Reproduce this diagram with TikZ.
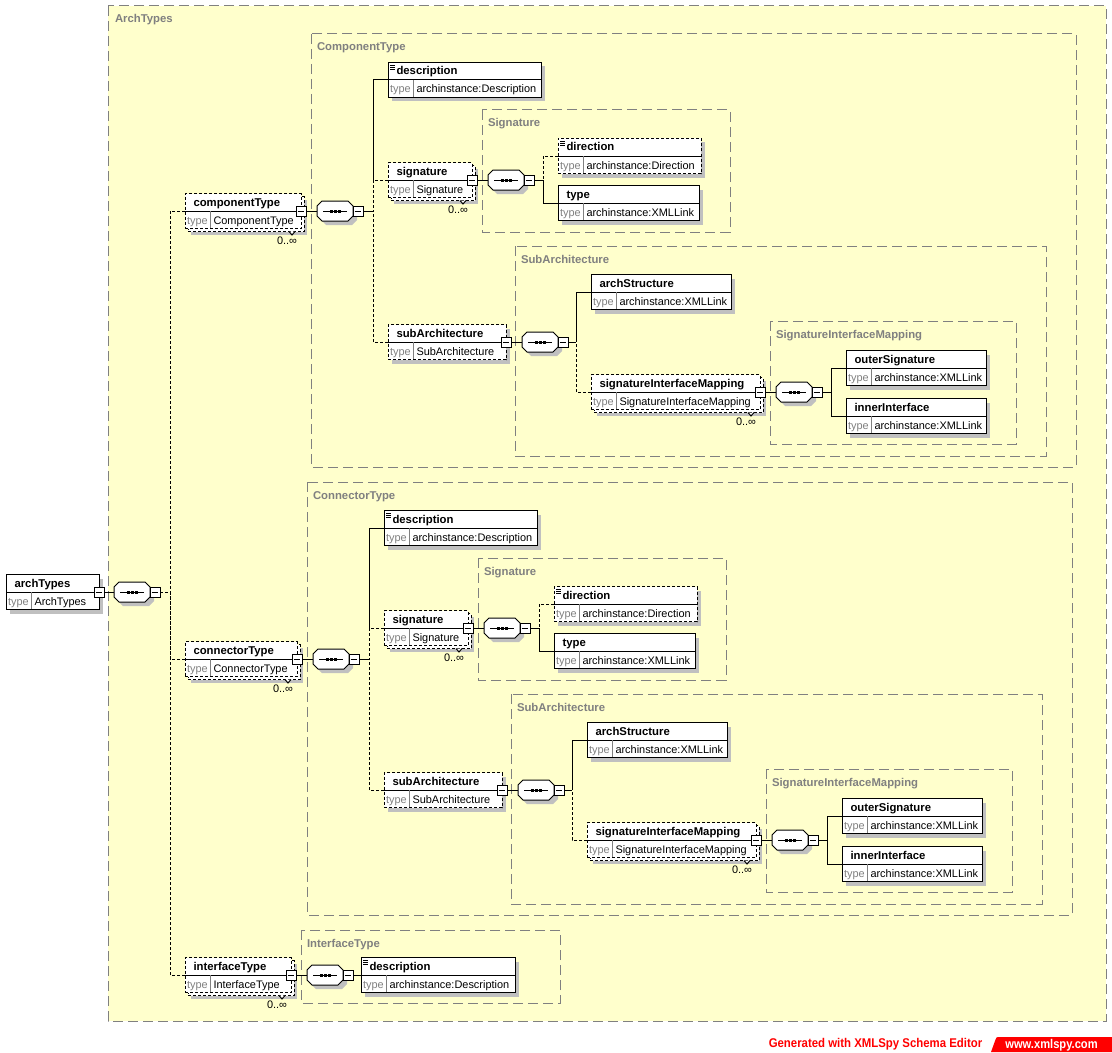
\documentclass[tikz,border=0pt]{standalone}
\usepackage{graphicx}
\usepackage{fontspec}
\setmainfont{Liberation Sans}
\definecolor{bgy}{HTML}{FFFFCC}
\definecolor{shd}{HTML}{C0C0C0}
\definecolor{gry}{HTML}{808080}
\definecolor{xred}{HTML}{FF0000}
\newif\ifemulti \newif\ifedoc \newif\ifedash \newif\ifeminus
\pgfkeys{/elem/.cd, multi/.code={\emultitrue}, doc/.code={\edoctrue}, dashed/.code={\edashtrue}, minus/.code={\eminustrue}}
\tikzset{
 dsh/.style={dash pattern=on 2.25pt off 1.5pt},
 regbox/.style={draw=gry, dash pattern=on 7.5pt off 3.75pt},
 ebox/.style={draw, fill=white, inner sep=0pt, outer sep=0pt, minimum height=26.25pt},
 mbox/.style={draw, fill=white, inner sep=0pt, outer sep=0pt, minimum size=7.5pt},
 txt/.style={font=\fontsize{8.2}{10}\selectfont, inner sep=0pt, outer sep=0pt, anchor=base west},
 ttl/.style={txt, font=\fontsize{8.5}{10}\selectfont\bfseries},
 reglbl/.style={ttl, text=gry},
 curb/.style={solid},
}
\newcommand\octpath[2]{({#1-18},{#2-5}) -- ({#1-13},{#2-10}) -- ({#1+13},{#2-10}) -- ({#1+18},{#2-5}) -- ({#1+18},{#2+5}) -- ({#1+13},{#2+10}) -- ({#1-13},{#2+10}) -- ({#1-18},{#2+5}) -- cycle}
\newcommand\region[6]{%
 \draw[regbox] (#2,#3) rectangle (#4,#5);
 \node[reglbl] (#1) at ({#2+6},{#3+17}) {#6};
}
\newcommand\seq[3]{%
 \fill[shd] \octpath{#2+4}{#3+4};
 \filldraw[fill=white] \octpath{#2}{#3};
 \node[inner sep=0pt,outer sep=0pt,minimum width=27pt,minimum height=15pt] (#1) at (#2,#3) {};
 \draw ({#2-12},#3) -- ({#2+12},#3);
 \fill ({#2-5.5},{#3-1.5}) rectangle ({#2-2.5},{#3+1.5});
 \fill ({#2-1.5},{#3-1.5}) rectangle ({#2+1.5},{#3+1.5});
 \fill ({#2+2.5},{#3-1.5}) rectangle ({#2+5.5},{#3+1.5});
 \node[mbox] (#1m) at ({#2+23},#3) {};
 \draw ([xshift=-2.6pt]#1m.center) -- ([xshift=2.6pt]#1m.center);
}
\newcommand\elem[7][]{%
 \emultifalse\edocfalse\edashfalse\eminusfalse
 \pgfkeys{/elem/.cd,#1}%
 \pgfmathsetmacro\ya{#4-17.5}%
 \pgfmathsetmacro\yb{#4+17.5}%
 \ifemulti
  \fill[shd] ({#3+6},{\ya+6}) rectangle ({#5+6},{\yb+6});
  \filldraw[fill=white,dsh] ({#3+3},{\ya+3}) rectangle ({#5+3},{\yb+3});
  \filldraw[fill=white] ({#5-12},{\yb+3}) -- ({#5-9},{\yb+6.5}) -- ({#5-6},{\yb+3});
  \node[txt,anchor=base] (#2occ) at ({#5-14},{#4+33}) {0..∞};
 \else
  \fill[shd] ({#3+4},{\ya+4}) rectangle ({#5+4},{\yb+4});
 \fi
 \ifedash\tikzset{curb/.style={dsh}}\else\tikzset{curb/.style={solid}}\fi
 \node[ebox,curb,minimum width={(#5-#3)*0.75pt},anchor=west] (#2) at (#3,#4) {};
 \draw (#2.west) -- (#2.east);
 \draw[gry] ({#3+25},#4) -- ({#3+25},{\yb-0.5});
 \ifedoc
  \draw[line width=0.6pt] ({#3+2},{\ya+2.5}) -- ({#3+7},{\ya+2.5}) ({#3+2},{\ya+4.5}) -- ({#3+7},{\ya+4.5}) ({#3+2},{\ya+6.5}) -- ({#3+7},{\ya+6.5});
 \fi
 \node[ttl] (#2t) at ({#3+8.5},{#4-5}) {#6};
 \node[txt,text=gry] (#2k) at ({#3+2},{#4+13}) {type};
 \node[txt] (#2v) at ({#3+28.5},{#4+13}) {#7};
 \ifeminus
  \node[mbox] (#2m) at (#2.east) {};
  \draw ([xshift=-2.6pt]#2m.center) -- ([xshift=2.6pt]#2m.center);
 \fi
}
\newcommand\typesection[4]{%
\begin{scope}[shift={(#2,#3)}]
 \region{#1lT}{311}{34}{1076}{467}{#4}
 \region{#1lS}{482}{110}{730}{232}{Signature}
 \region{#1lA}{515}{246}{1046}{456}{SubArchitecture}
 \region{#1lM}{770}{321}{1016}{444}{SignatureInterfaceMapping}
 \seq{#1S}{335}{211}
 \coordinate (#1b) at (373,211);
 \coordinate (#1bs) at (373,180);
 \draw (#1Sm.east) -- (#1b);
 \elem[doc]{#1desc}{388}{80}{541}{description}{archinstance:Description}
 \elem[multi,dashed,minus]{#1sig}{388}{180}{472}{signature}{Signature}
 \elem[dashed,minus]{#1sub}{388}{342}{506}{subArchitecture}{SubArchitecture}
 \draw (#1desc.west) -| (#1bs);
 \draw[dsh] (#1sig.west) -| (#1b);
 \draw[dsh] (#1sub.west) -| (#1b);
 % Signature
 \seq{#1S2}{506}{180}
 \draw (#1sigm.east) -- (#1S2.west);
 \coordinate (#1b2) at (543,180);
 \draw (#1S2m.east) -- (#1b2);
 \elem[dashed,doc]{#1dir}{558}{156}{701}{direction}{archinstance:Direction}
 \elem{#1typ}{558}{203}{699}{type}{archinstance:XMLLink}
 \draw[dsh] (#1dir.west) -| (#1b2);
 \draw (#1typ.west) -| (#1b2);
 % SubArchitecture
 \seq{#1S3}{540}{342}
 \draw (#1subm.east) -- (#1S3.west);
 \coordinate (#1b3) at (576,342);
 \draw (#1S3m.east) -- (#1b3);
 \elem{#1arch}{591}{292}{731}{archStructure}{archinstance:XMLLink}
 \elem[multi,dashed,minus]{#1sim}{591}{392}{760}{signatureInterfaceMapping}{SignatureInterfaceMapping}
 \draw (#1arch.west) -| (#1b3);
 \draw[dsh] (#1sim.west) -| (#1b3);
 % SignatureInterfaceMapping
 \seq{#1S4}{794}{392}
 \draw (#1simm.east) -- (#1S4.west);
 \coordinate (#1b4) at (831,392);
 \draw (#1S4m.east) -- (#1b4);
 \elem{#1out}{846}{368}{986}{outerSignature}{archinstance:XMLLink}
 \elem{#1inn}{846}{416}{986}{innerInterface}{archinstance:XMLLink}
 \draw (#1out.west) -| (#1b4);
 \draw (#1inn.west) -| (#1b4);
\end{scope}}
\begin{document}
\begin{tikzpicture}[x=0.75pt,y=-0.75pt,line width=0.75pt]
\path[use as bounding box, fill=white] (0,0) rectangle (1112,1052);
\filldraw[regbox,fill=bgy] (108,6) rectangle (1106,1021);
\node[reglbl] (lblAT) at (115,23) {ArchTypes};
\elem[minus]{atp}{6}{592}{99}{archTypes}{ArchTypes}
\seq{S0}{132}{592}
\draw (atpm.east) -- (S0.west);
\coordinate (b0) at (170,592);
\draw[dsh] (S0m.east) -- (b0);
% componentType
\elem[multi,dashed,minus]{ct}{185}{211}{301}{componentType}{ComponentType}
\typesection{C}{0}{0}{ComponentType}
\draw (ctm.east) -- (CS.west);
% connectorType
\elem[multi,dashed,minus]{nt}{185}{659}{297}{connectorType}{ConnectorType}
\typesection{N}{-4}{448}{ConnectorType}
\draw (ntm.east) -- (NS.west);
% interfaceType
\region{lblIT}{301}{930}{560}{1003}{InterfaceType}
\elem[multi,dashed,minus]{it}{185}{975}{291}{interfaceType}{InterfaceType}
\seq{IS}{325}{975}
\draw (itm.east) -- (IS.west);
\elem[doc]{idesc}{361}{975}{515}{description}{archinstance:Description}
\draw (ISm.east) -- (idesc.west);
% bus
\draw[dsh] (ct.west) -| (b0);
\draw[dsh] (nt.west) -| (b0);
\draw[dsh] (it.west) -| (b0);
% footer
\node[font=\fontsize{9.5}{11}\selectfont\bfseries, text=xred, inner sep=0pt] (gen) at (875.5,1044) {\scalebox{0.9}[1]{Generated with XMLSpy Schema Editor}};
\fill[xred] (991,1052) -- (995.5,1039.5) .. controls (996.5,1037) .. (999,1037) -- (1112,1037) -- (1112,1052) -- cycle;
\node[font=\fontsize{9.5}{11}\selectfont\bfseries, text=white, inner sep=0pt] (www) at (1051.5,1045) {\scalebox{0.88}[1]{www.xmlspy.com}};
\end{tikzpicture}
\end{document}
